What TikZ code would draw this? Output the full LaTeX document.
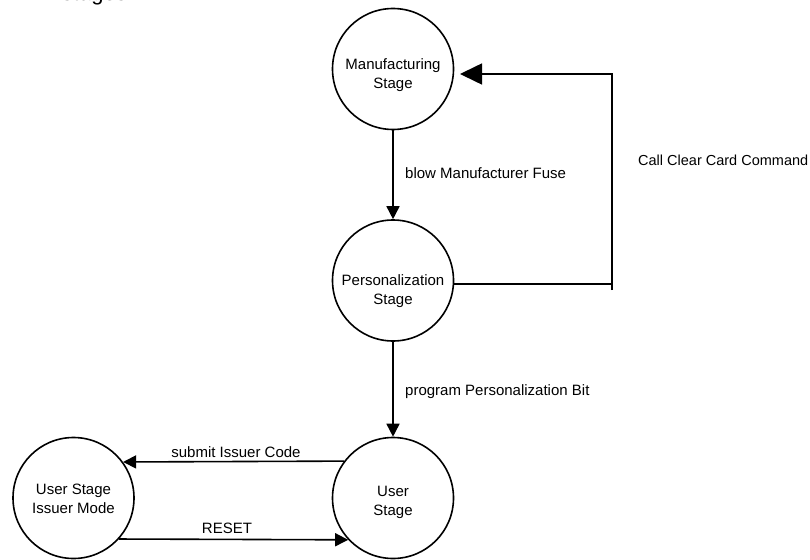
\documentclass[tikz,border=0pt]{standalone}
\usepackage{fontspec}
\setmainfont{Liberation Sans}
\usetikzlibrary{arrows.meta}
\begin{document}
\begin{tikzpicture}[x=1pt,y=1pt,
  state/.style={circle,draw,line width=1.6pt,minimum size=121pt,inner sep=0pt},
  txt/.style={font=\fontsize{15}{19}\selectfont,align=center,inner sep=0pt},
  lbl/.style={font=\fontsize{15}{19}\selectfont,inner sep=0pt},
  conn/.style={line width=1.6pt},
  arr/.style={line width=1.6pt,-{Triangle[length=13pt,width=13pt]}},
  bigarr/.style={line width=1.6pt,-{Triangle[length=22pt,width=21pt]}}]
\useasboundingbox (0,0) rectangle (810,-559);
\clip (0,0) rectangle (810,-559);
% title fragment
\node[font=\fontsize{22}{26}\selectfont,anchor=base east,inner sep=0pt] (title) at (127,-1) {stages};
% states
\node[state] (M) at (393,-69) {};
\node[state] (P) at (393,-280.5) {};
\node[state] (U) at (393,-498) {};
\node[state] (I) at (73.5,-498) {};
\node[txt] (Mt) at (393,-75) {Manufacturing\\Stage};
\node[txt] (Pt) at (393,-291) {Personalization\\Stage};
\node[txt] (Ut) at (393,-502) {User\\Stage};
\node[txt] (It) at (73.5,-499) {User Stage\\Issuer Mode};
% connectors
\draw[arr] (M) -- (P);
\draw[arr] (P) -- (U);
\coordinate (cb) at (612,-284);
\coordinate (cbot) at (612,-290);
\coordinate (cr) at (612,-74);
\coordinate (mt) at (460,-74);
\draw[conn] ([yshift=-3.5pt]P.east) -- (cb);
\draw[bigarr] (cbot) -- (cr) -- (mt);
\draw[arr] (U.143.5) -- (I.36.5);
\draw[arr] (I.-42.7) -- (U.-137.3);
% labels
\node[lbl,anchor=west] (l1) at (405,-173) {blow Manufacturer Fuse};
\node[lbl,anchor=west] (l2) at (405,-392) {program Personalization Bit};
\node[lbl,anchor=west,font=\fontsize{14.5}{18}\selectfont] (l3) at (638,-160) {Call Clear Card Command};
\node[lbl,anchor=base] (l4) at (236,-457) {submit Issuer Code};
\node[lbl,anchor=base] (l5) at (227,-533) {RESET};
\end{tikzpicture}
\end{document}
